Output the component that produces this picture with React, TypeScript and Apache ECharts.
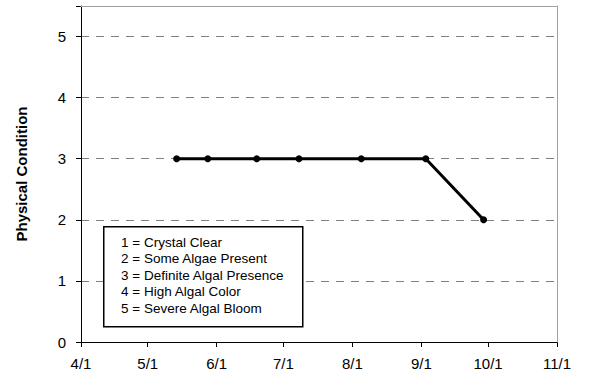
import React, { useEffect, useRef } from "react";
import * as echarts from "echarts";

const sampleDates = ["2003-05-14", "2003-05-28", "2003-06-19", "2003-07-08", "2003-08-05", "2003-09-03", "2003-09-29"];
const conditionValues = [3, 3, 3, 3, 3, 3, 2];
const xMin = "2003-04-01";
const xMax = "2003-11-01";
const yTitle = "Physical Condition";
const legendLines = [
  "1 = Crystal Clear",
  "2 = Some Algae Present",
  "3 = Definite Algal Presence",
  "4 = High Algal Color",
  "5 = Severe Algal Bloom",
];

const FONT = "'Liberation Sans', Arial, sans-serif";

export default function App() {
  const ref = useRef<HTMLDivElement>(null);
  useEffect(() => {
    if (!ref.current) return;
    const chart = echarts.init(ref.current, null, { renderer: "svg" });
    const data = sampleDates.map((d, i) => [d, conditionValues[i]]);
    chart.setOption({
      animation: false,
      backgroundColor: "#ffffff",
      textStyle: { fontFamily: FONT },
      grid: { left: 81, right: 32, top: 6, bottom: 35, containLabel: false },
      xAxis: [
        {
          type: "time",
          min: xMin,
          max: xMax,
          axisLine: { show: true, onZero: false, lineStyle: { color: "#000", width: 1 } },
          axisTick: { show: true, length: 5, lineStyle: { color: "#000" } },
          axisLabel: {
            formatter: "{M}/{d}",
            color: "#000",
            fontSize: 15,
            fontFamily: FONT,
            margin: 14,
            showMinLabel: true,
            showMaxLabel: true,
            hideOverlap: false,
          },
          splitLine: { show: false },
          z: 4,
        },
        {
          type: "value",
          position: "top",
          min: 0,
          max: 1,
          axisLine: { show: true, onZero: false, lineStyle: { color: "#a0a0a0", width: 1 } },
          axisTick: { show: false },
          axisLabel: { show: false },
          splitLine: { show: false },
          z: 5,
        },
      ],
      yAxis: [
        {
          type: "value",
          min: 0,
          max: 5.5,
          interval: 1,
          name: yTitle,
          nameLocation: "middle",
          nameRotate: 90,
          nameGap: 52,
          nameTextStyle: { fontFamily: FONT, fontSize: 15, fontWeight: "bold", color: "#000" },
          axisLine: { show: true, onZero: false, lineStyle: { color: "#000", width: 1 } },
          axisTick: { show: true, length: 5, lineStyle: { color: "#000" } },
          axisLabel: {
            color: "#000",
            fontSize: 15,
            fontFamily: FONT,
            margin: 15,
            formatter: (v: number) => (v > 5 ? "" : String(v)),
          },
          splitLine: {
            show: true,
            showMaxLine: false,
            showMinLine: false,
            lineStyle: { color: "#808080", type: [8, 7], width: 1 },
          },
          z: 4,
        },
        {
          type: "value",
          position: "right",
          min: 0,
          max: 1,
          axisLine: { show: true, onZero: false, lineStyle: { color: "#a0a0a0", width: 1 } },
          axisTick: { show: false },
          axisLabel: { show: false },
          splitLine: { show: false },
          z: 5,
        },
      ],
      series: [
        {
          type: "line",
          data,
          xAxisIndex: 0,
          yAxisIndex: 0,
          lineStyle: { color: "#000", width: 3 },
          itemStyle: { color: "#000" },
          symbol: "circle",
          symbolSize: 7,
          z: 6,
        },
      ],
      graphic: [
        {
          type: "rect",
          left: 103,
          top: 226,
          z: 100,
          shape: { x: 0, y: 0, width: 199, height: 100 },
          style: { fill: "#fff", stroke: "#000", lineWidth: 1.5 },
        },
        ...legendLines.map((t, i) => ({
          type: "text",
          left: 121,
          top: 235 + i * 16.5,
          z: 101,
          style: {
            text: t,
            fill: "#000",
            font: `13.5px ${FONT}`,
          },
        })),
      ],
    });
    return () => chart.dispose();
  }, []);
  return <div ref={ref} style={{ position: "absolute", left: 0, top: 0, width: 589, height: 377 }} />;
}
